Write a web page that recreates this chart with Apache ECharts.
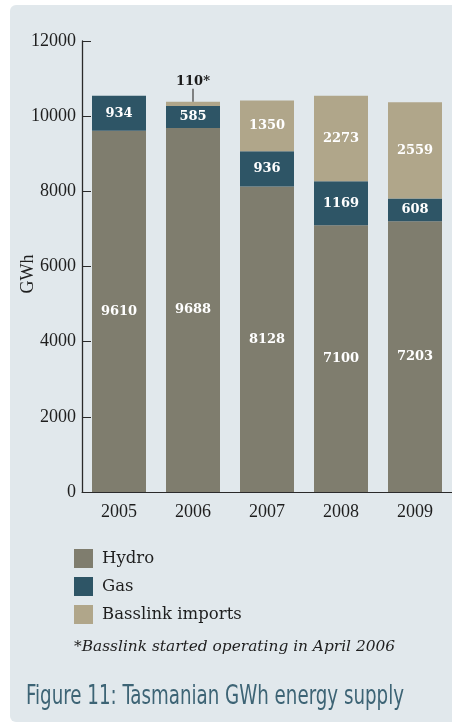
<!DOCTYPE html>
<html>
<head>
<meta charset="utf-8">
<script src="https://cdn.jsdelivr.net/npm/echarts@6/dist/echarts.min.js"></script>
<style>
  html, body { margin: 0; padding: 0; background: #ffffff; }
  #panel { position: absolute; left: 10px; top: 5px; width: 460px; height: 717px;
           background: #e1e8ec; border-radius: 6px; }
  #chart { position: absolute; left: 0; top: 0; width: 452px; height: 723px; }
</style>
</head>
<body>
<div id="panel"></div>
<div id="chart"></div>
<script>
// Tasmanian energy supply by source, GWh
const years = ['2005', '2006', '2007', '2008', '2009'];
const hydro = [9610, 9688, 8128, 7100, 7203];
const gas = [934, 585, 936, 1169, 608];
const basslink = [0, 110, 1350, 2273, 2559];
const yTicks = [0, 2000, 4000, 6000, 8000, 10000, 12000];

const serif = "'DejaVu Serif', 'Liberation Serif', serif";
const axisSerif = "'Liberation Serif', 'DejaVu Serif', serif";
const colors = { hydro: '#7f7d6e', gas: '#2e5566', basslink: '#b0a68a' };

const chart = echarts.init(document.getElementById('chart'), null, { renderer: 'canvas' });

const insideLabel = {
  show: true,
  position: 'inside',
  color: '#ffffff',
  fontFamily: serif,
  fontWeight: 'bold',
  fontSize: 13
};

// Basslink began mid-2006: its small first-year value is called out above the bar
const basslinkData = basslink.map((v) => {
  if (v === 0) return { value: 0, label: { show: false } };
  if (v < 300) {
    return {
      value: v,
      label: {
        show: true,
        position: 'top',
        distance: 0,
        formatter: '{v|{c}*}\n{l|}',
        rich: {
          v: { color: '#1a1a1a', fontFamily: serif, fontWeight: 'bold', fontSize: 13, lineHeight: 14 },
          l: { width: 1.4, height: 13, backgroundColor: '#555555' }
        }
      }
    };
  }
  return v;
});

chart.setOption({
  animation: false,
  grid: { left: 82, right: -5, top: 41, bottom: 231 },
  xAxis: {
    type: 'category',
    data: years,
    axisLine: { lineStyle: { color: '#2a2a2a', width: 1 } },
    axisTick: { inside: true, length: 10, lineStyle: { color: '#2a2a2a', width: 1 } },
    axisLabel: { color: '#1e1e1e', fontFamily: axisSerif, fontSize: 18, margin: 11 }
  },
  yAxis: {
    type: 'value',
    min: yTicks[0],
    max: yTicks[yTicks.length - 1],
    interval: yTicks[1] - yTicks[0],
    splitLine: { show: false },
    axisLine: { show: true, lineStyle: { color: '#2a2a2a', width: 1.3 } },
    axisTick: { show: true, inside: true, length: 9, lineStyle: { color: '#2a2a2a', width: 1 } },
    axisLabel: { color: '#1e1e1e', fontFamily: axisSerif, fontSize: 18, margin: 6,
                 formatter: (v) => String(v) }
  },
  legend: {
    orient: 'vertical',
    left: 74,
    top: 549,
    padding: 0,
    itemWidth: 19,
    itemHeight: 19,
    itemGap: 9,
    icon: 'rect',
    textStyle: { color: '#1e1e1e', fontFamily: serif, fontSize: 16.5, padding: [0, 0, 0, 4] },
    data: ['Hydro', 'Gas', 'Basslink imports']
  },
  series: [
    { name: 'Hydro', type: 'bar', stack: 'supply', barWidth: 54, data: hydro,
      itemStyle: { color: colors.hydro }, label: insideLabel },
    { name: 'Gas', type: 'bar', stack: 'supply', barWidth: 54, data: gas,
      itemStyle: { color: colors.gas }, label: insideLabel },
    { name: 'Basslink imports', type: 'bar', stack: 'supply', barWidth: 54, data: basslinkData,
      itemStyle: { color: colors.basslink }, label: insideLabel }
  ],
  graphic: [
    { type: 'text', x: 28, y: 274, rotation: Math.PI / 2,
      style: { text: 'GWh', fill: '#1e1e1e', font: "18px 'Liberation Serif', serif",
               textAlign: 'center', textVerticalAlign: 'middle' } },
    { type: 'text', x: 74, y: 647,
      style: { text: '*Basslink started operating in April 2006', fill: '#1e1e1e',
               font: "italic 15.4px 'DejaVu Serif', serif", textVerticalAlign: 'middle' } },
    { type: 'text', x: 26, y: 697, scaleX: 0.78,
      style: { text: 'Figure 11: Tasmanian GWh energy supply', fill: '#3d6475',
               font: "26px 'Liberation Sans Narrow', 'DejaVu Sans Condensed', sans-serif",
               textVerticalAlign: 'middle' } }
  ]
});
</script>
</body>
</html>
